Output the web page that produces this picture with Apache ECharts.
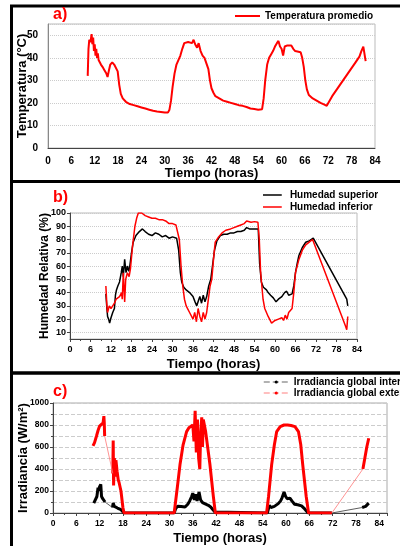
<!DOCTYPE html>
<html>
<head>
<meta charset="utf-8">
<script src="https://cdn.jsdelivr.net/npm/echarts@6/dist/echarts.min.js"></script>
<style>
  html, body { margin: 0; padding: 0; background: #fff; }
  #main { width: 400px; height: 546px; }
</style>
</head>
<body>
<div id="main"></div>
<script>
// a) temperatura promedio [hora, °C]
let temperatura = [[10.2,32],[10.4,44],[10.6,48],[10.9,47],[11.2,50.5],[11.4,46],[11.6,49],[11.8,43],[12.0,46],[12.2,41],[12.4,44],[12.6,40],[12.8,42],[13.0,39],[13.3,38],[13.6,37],[14.0,36],[14.5,34.5],[15.0,33],[15.3,31.5],[15.6,34],[16.0,37],[16.5,38],[17.0,37],[17.5,36.5],[17.9,34],[18.3,28],[18.7,24],[19.2,22],[20.0,20.5],[21.0,19.5],[22.0,19],[23.0,18.5],[24.0,18],[25.0,17.5],[26.0,17],[27.0,16.5],[28.0,16.2],[29.0,16],[30.0,15.7],[30.8,15.7],[31.2,17],[31.6,21],[32.0,27],[32.5,33],[33.0,37],[33.5,39],[34.0,41],[34.5,44],[35.0,46.5],[36.0,47],[37.0,46.5],[37.4,48],[37.8,46],[38.3,44.5],[38.7,46.5],[39.2,43],[39.7,41],[40.2,40],[40.7,39.5],[41.2,35],[41.6,30],[42.0,26.5],[42.5,24.5],[43.0,23],[44.0,22],[45.0,21],[46.0,20.5],[47.0,20],[48.0,19.5],[49.0,19],[50.0,18.7],[51.0,18.2],[52.0,17.5],[53.0,17.3],[54.0,17],[55.0,17.2],[55.4,22],[55.8,30],[56.3,37],[56.8,40],[57.3,41.5],[57.8,43],[58.3,45],[58.8,46.5],[59.2,47.5],[59.6,45],[60.0,44],[60.4,41],[60.8,45],[61.5,45.5],[62.5,45.5],[63.0,44],[63.5,43],[64.0,42.5],[64.9,42.5],[65.3,40],[65.7,36],[66.1,30],[66.5,26],[67.0,23.5],[68.0,22],[69.0,21],[70.0,20],[71.0,19.2],[71.6,18.7],[73.0,23],[75.0,28],[77.0,33],[79.0,38],[80.0,40.5],[80.5,43],[81.0,45],[81.4,45.5],[81.6,38.5]]

// b) humedad relativa [hora, %]
let humedadSuperior = [[10.5,39],[10.8,28],[11.0,22],[11.3,20],[11.6,17],[12.0,21],[12.5,25],[13.0,28],[13.3,38],[13.6,42],[14.0,45],[14.5,48],[15.0,55],[15.3,60],[15.6,52],[16.0,65],[16.4,55],[16.8,60],[17.2,56],[17.5,60],[18.0,70],[18.5,78],[19.3,83],[20.3,86],[21.2,88],[22.0,86],[23.0,84],[24.0,83],[25.0,85],[26.0,84],[27.0,82],[28.0,83],[29.0,81],[30.0,82],[31.2,81],[31.8,72],[32.3,55],[32.7,48],[33.3,44],[34.0,42],[35.0,40],[36.0,37],[36.6,33],[37.1,30],[37.6,34],[38.0,37],[38.5,32],[39.0,38],[39.5,33],[40.0,37],[40.6,45],[41.2,50],[41.7,60],[42.3,72],[43.0,79],[44.0,83],[45.0,84],[46.0,84],[47.0,85],[48.0,85],[49.0,86],[50.0,86],[51.0,87],[51.7,89],[52.5,88],[54.0,88],[55.1,88],[55.5,62],[56.0,48],[56.6,44],[57.5,42],[58.0,40],[58.7,38],[59.5,36],[60.3,33],[61.0,35],[62.0,37],[62.8,40],[63.4,41],[64.0,38],[65.0,39],[65.5,45],[66.0,55],[66.5,62],[67.0,68],[68.0,74],[69.0,78],[70.0,79],[71.2,81],[81.0,35],[81.3,30]]
let humedadInferior = [[10.5,45],[10.8,30],[11.0,25],[11.5,30],[12.0,28],[12.5,30],[13.0,32],[13.5,35],[14.5,37],[15.1,40],[15.3,35],[15.6,55],[16.0,33],[16.3,50],[16.8,55],[17.3,52],[17.7,58],[18.3,75],[19.0,90],[19.5,96],[20.0,100],[21.0,100],[22.0,98],[23.0,97],[24.0,96],[25.0,96],[26.0,95],[27.0,95],[28.0,94],[29.0,92],[30.0,92],[31.0,91],[31.5,91],[32.0,80],[32.5,60],[33.0,45],[33.5,35],[34.0,30],[35.0,25],[36.0,20],[36.5,25],[37.0,18],[37.5,28],[38.0,22],[38.5,18],[39.0,25],[39.5,20],[40.0,25],[40.5,35],[41.0,45],[41.5,50],[42.0,65],[42.5,78],[43.5,82],[44.5,85],[45.6,87],[47.0,88],[48.0,89],[49.0,90],[50.0,91],[51.0,92],[51.7,94],[53.0,93],[54.0,93.5],[55.0,93],[55.4,80],[55.8,55],[56.5,35],[57.0,28],[58.0,22],[59.0,17],[60.0,19],[61.0,20],[62.0,21],[62.5,19],[63.0,23],[63.5,20],[64.0,25],[65.0,28],[65.5,40],[66.0,55],[67.0,65],[68.0,72],[69.0,76],[70.0,78],[71.0,80],[71.5,81],[80.6,15],[81.0,12],[81.3,22]]

// c) irradiancia [hora, W/m2]; '-' separa tramos medidos de los huecos
let irrInterior = [[10.5,90],[11.0,100],[11.3,150],[11.6,230],[11.8,200],[12.0,240],[12.3,260],[12.5,150],[12.8,130],[13.0,120],[13.4,100],'-',[15.3,50],[15.5,90],[15.8,60],[16.2,70],[16.6,45],[17.0,55],[17.5,30],[18.0,15],[18.3,0],[31.2,0],[31.6,40],[32.1,62],[33.0,60],[34.0,55],[34.7,80],[35.2,110],[35.7,150],[36.0,180],[36.4,120],[36.8,170],[37.1,110],[37.6,190],[38.0,120],[38.5,95],[39.0,80],[40.0,70],[40.6,55],[41.2,30],[41.7,10],[42.0,0],[55.2,0],[55.7,70],[56.1,50],[57.0,60],[58.0,85],[58.6,110],[59.0,140],[59.5,190],[59.9,150],[60.3,130],[61.0,135],[61.5,110],[62.2,80],[63.0,75],[64.0,65],[64.6,45],[65.2,20],[65.7,0],[71.8,0],'-',[79.6,50],[80.5,60],[81.0,70],[81.3,90]]
let irrInteriorHuecos = [[13.4,100],[15.3,50],'-',[71.8,0],[79.6,50]]
let irrExterior = [[10.3,610],[10.7,640],[11.2,700],[11.6,750],[12.0,790],[12.5,805],[12.9,820],[13.1,880],[13.2,820],[13.3,700],'-',[15.4,360],[15.5,660],[15.6,250],[15.8,500],[16.0,330],[16.2,480],[16.5,380],[16.8,300],[17.0,280],[17.5,200],[18.0,50],[18.3,0],[31.2,0],[32.0,230],[32.7,440],[33.5,620],[34.4,740],[35.0,775],[35.5,790],[36.0,800],[36.3,650],[36.6,930],[36.9,550],[37.2,850],[37.5,500],[37.8,400],[38.0,700],[38.3,870],[38.5,600],[38.7,850],[39.3,740],[40.4,443],[41.3,146],[41.8,0],[55.0,0],[55.5,150],[56.3,440],[57.0,620],[57.6,740],[58.5,785],[59.5,800],[60.4,800],[61.3,795],[62.3,785],[63.2,740],[63.8,620],[64.3,440],[65.2,150],[65.8,0],[71.8,0],'-',[79.8,400],[80.3,500],[80.8,600],[81.3,680]]
let irrExteriorHuecos = [[13.3,700],[15.4,360],'-',[71.8,0],[79.8,400]]

let humedadTicks = [10, 20, 30, 40, 50, 60, 70, 80, 90, 100]

let font = "'Liberation Sans', Arial, sans-serif"
let rojo = '#ff0000'
let lineaIcon = 'path://M0,0H25V2H0Z'

let myChart = echarts.init(document.getElementById('main'))

function ejeX(idx, max, fs, withTicks, margin) {
	return {
		type: 'value', gridIndex: idx, min: 0, max: max, interval: 6,
		name: 'Tiempo (horas)', nameLocation: 'middle', nameGap: 19, nameMoveOverlap: false,
		nameTextStyle: {fontFamily: font, fontWeight: 'bold', fontSize: 13, color: '#000'},
		axisLine: {show: true, lineStyle: {color: '#444', width: 1}},
		axisTick: {show: withTicks, inside: false, length: 3, lineStyle: {color: '#444'}},
		minorTick: {show: withTicks, splitNumber: 2, length: 2, lineStyle: {color: '#444'}},
		axisLabel: {fontFamily: font, fontWeight: 'bold', fontSize: fs, color: '#000', margin: margin, showMaxLabel: max == 84},
		splitLine: {show: false}
	}
}

let option = {
	animation: false,
	grid: [
		{left: 48, right: 25, top: 24, bottom: 398, show: true, borderColor: '#bbb', borderWidth: 1},
		{left: 70, right: 43, top: 213, bottom: 207, show: true, borderColor: '#bbb', borderWidth: 1},
		{left: 53, right: 13, top: 403, bottom: 31, show: true, borderColor: '#aaa', borderWidth: 1}
	],
	xAxis: [ejeX(0, 84, 10, false, 8), ejeX(1, 84, 9, true, 6), ejeX(2, 86, 8.5, true, 6)],
	yAxis: [
		{
			type: 'value', gridIndex: 0, min: 0, max: 55, interval: 10,
			name: 'Temperatura (°C)', nameLocation: 'middle', nameGap: 19, nameMoveOverlap: false,
			nameTextStyle: {fontFamily: font, fontWeight: 'bold', fontSize: 13, color: '#000'},
			axisLine: {show: true, lineStyle: {color: '#888'}},
			axisTick: {show: false},
			axisLabel: {fontFamily: font, fontWeight: 'bold', fontSize: 10, color: '#000', margin: 10, showMaxLabel: false},
			splitLine: {show: true, lineStyle: {color: '#ccc', type: 'dotted'}}
		},
		{
			type: 'value', gridIndex: 1, min: 5, max: 100,
			name: 'Humedad Relativa (%)', nameLocation: 'middle', nameGap: 19, nameMoveOverlap: false,
			nameTextStyle: {fontFamily: font, fontWeight: 'bold', fontSize: 12, color: '#000'},
			axisLine: {show: true, lineStyle: {color: '#444'}},
			axisTick: {show: true, length: 3, customValues: humedadTicks, lineStyle: {color: '#444'}},
			axisLabel: {fontFamily: font, fontWeight: 'bold', fontSize: 9, color: '#000', margin: 4, customValues: humedadTicks},
			splitLine: {show: true, lineStyle: {color: '#ccc', type: 'dotted'}}
		},
		{
			type: 'value', gridIndex: 2, min: 0, max: 1000, interval: 200,
			name: 'Irradiancia (W/m²)', nameLocation: 'middle', nameGap: 23, nameMoveOverlap: false,
			nameTextStyle: {fontFamily: font, fontWeight: 'bold', fontSize: 13, color: '#000'},
			axisLine: {show: true, lineStyle: {color: '#444'}},
			axisTick: {show: true, length: 3, lineStyle: {color: '#444'}},
			minorTick: {show: true, splitNumber: 2, length: 2, lineStyle: {color: '#444'}},
			axisLabel: {fontFamily: font, fontWeight: 'bold', fontSize: 8.5, color: '#000', margin: 4, formatter: v => String(v)},
			splitLine: {show: true, lineStyle: {color: '#ccc', type: 'dashed'}},
			minorSplitLine: {show: true, lineStyle: {color: '#ccc', type: 'dashed'}}
		}
	],
	legend: [
		{
			left: 230, top: 6, itemWidth: 25, itemHeight: 2, itemGap: 0, icon: lineaIcon,
			textStyle: {fontFamily: font, fontWeight: 'bold', fontSize: 10, color: '#000'},
			data: ['Temperatura promedio']
		},
		{
			left: 258, top: 185, orient: 'vertical', itemWidth: 25, itemHeight: 1.5, itemGap: 2, icon: lineaIcon,
			textStyle: {fontFamily: font, fontWeight: 'bold', fontSize: 10, color: '#000'},
			data: ['Humedad superior', 'Humedad inferior']
		},
		{
			left: 258, top: 372, orient: 'vertical', itemWidth: 25, itemHeight: 4, itemGap: 1,
			textStyle: {fontFamily: font, fontWeight: 'bold', fontSize: 10, color: '#000'},
			data: [
				{name: 'Irradiancia global interior', lineStyle: {color: '#999', type: 'dashed', width: 1.5}, itemStyle: {color: '#000'}},
				{name: 'Irradiancia global exterior', lineStyle: {color: '#ffaaaa', type: 'dashed', width: 1.5}, itemStyle: {color: rojo}}
			]
		}
	],
	graphic: [
		{type: 'rect', shape: {x: 11.5, y: 6, width: 420, height: 175.5}, style: {fill: null, stroke: '#000', lineWidth: 3}},
		{type: 'rect', shape: {x: 11.5, y: 181.5, width: 420, height: 191.5}, style: {fill: null, stroke: '#000', lineWidth: 3}},
		{type: 'rect', shape: {x: 11.5, y: 373, width: 420, height: 200}, style: {fill: null, stroke: '#000', lineWidth: 3}},
		{type: 'text', left: 53, top: 7, style: {text: 'a)', fill: rojo, font: "bold 16px 'Liberation Sans', Arial"}},
		{type: 'text', left: 53, top: 190, style: {text: 'b)', fill: rojo, font: "bold 16px 'Liberation Sans', Arial"}},
		{type: 'text', left: 53, top: 384, style: {text: 'c)', fill: rojo, font: "bold 16px 'Liberation Sans', Arial"}}
	],
	series: [
		{
			name: 'Temperatura promedio', type: 'line', xAxisIndex: 0, yAxisIndex: 0,
			symbol: 'none', data: temperatura,
			lineStyle: {color: rojo, width: 2}, itemStyle: {color: rojo}
		},
		{
			name: 'Humedad superior', type: 'line', xAxisIndex: 1, yAxisIndex: 1,
			symbol: 'none', data: humedadSuperior,
			lineStyle: {color: '#000', width: 1.5}, itemStyle: {color: '#000'}
		},
		{
			name: 'Humedad inferior', type: 'line', xAxisIndex: 1, yAxisIndex: 1,
			symbol: 'none', data: humedadInferior,
			lineStyle: {color: rojo, width: 1.5}, itemStyle: {color: rojo}
		},
		{
			name: 'Irradiancia global interior', type: 'line', xAxisIndex: 2, yAxisIndex: 2,
			symbol: 'circle', symbolSize: 4, showSymbol: false, connectNulls: false, data: irrInterior,
			lineStyle: {color: '#000', width: 3}, itemStyle: {color: '#000'}
		},
		{
			name: 'Irradiancia global interior', type: 'line', xAxisIndex: 2, yAxisIndex: 2,
			symbol: 'none', connectNulls: false, data: irrInteriorHuecos,
			lineStyle: {color: '#333', width: 0.8}
		},
		{
			name: 'Irradiancia global exterior', type: 'line', xAxisIndex: 2, yAxisIndex: 2,
			symbol: 'circle', symbolSize: 4, showSymbol: false, connectNulls: false, data: irrExterior,
			lineStyle: {color: rojo, width: 3}, itemStyle: {color: rojo}
		},
		{
			name: 'Irradiancia global exterior', type: 'line', xAxisIndex: 2, yAxisIndex: 2,
			symbol: 'none', connectNulls: false, data: irrExteriorHuecos,
			lineStyle: {color: '#ff7777', width: 0.8}
		}
	]
}

myChart.setOption(option)
</script>
</body>
</html>
